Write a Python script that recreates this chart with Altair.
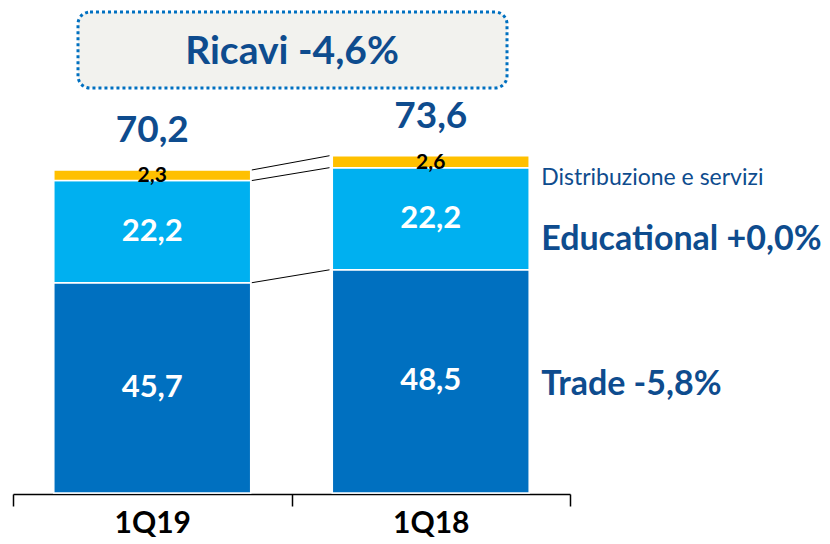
import altair as alt
import pandas as pd

quarters = ["1Q19", "1Q18"]
segments = ["Trade", "Educational", "Distribuzione e servizi"]
trade = [45.7, 48.5]
educational = [22.2, 22.2]
distribuzione = [2.3, 2.6]
totals = [70.2, 73.6]
title_text = ["Ricavi -4,6%"]
right_labels = ["Trade -5,8%", "Educational +0,0%", "Distribuzione e servizi"]

seg_colors = ["#0070C0", "#00B0F0", "#FFC000"]
dark = "#0E4C8E"
FONT = "Lato"

def fmt(v):
    return f"{v:.1f}".replace(".", ",")

rows = []
for i, q in enumerate(quarters):
    start = 0.0
    for s, vals in zip(segments, [trade, educational, distribuzione]):
        v = vals[i]
        rows.append({"quarter": q, "segment": s, "start": start, "end": start + v,
                     "mid": start + v / 2, "label": fmt(v)})
        start += v
df = pd.DataFrame(rows)

tot_df = pd.DataFrame({
    "quarter": quarters,
    "top": [t + e + d for t, e, d in zip(trade, educational, distribuzione)],
    "label": [fmt(v) for v in totals],
})

# connectors between stacked levels
conn = []
for lvl in range(3):
    a = df[(df.quarter == quarters[0])].iloc[lvl]["end"]
    b = df[(df.quarter == quarters[1])].iloc[lvl]["end"]
    conn.append({"from_q": quarters[0], "to_q": quarters[1], "y1": a, "y2": b})
conn_df = pd.DataFrame(conn)

q_last = quarters[1]
last = df[df.quarter == q_last].set_index("segment")
rl_df = pd.DataFrame({
    "quarter": [q_last] * 3,
    "label": right_labels,
    "y": [last.loc["Trade", "mid"], last.loc["Educational", "mid"], last.loc["Educational", "end"]],
})

yscale = alt.Scale(domain=[0, 105.4], nice=False, zero=True)
xscale = alt.Scale(domain=quarters, paddingInner=0, paddingOuter=0)
BAND = 0.707

xaxis = alt.Axis(title=None, labelAngle=0, domainColor="black", domainWidth=1.5,
                 tickColor="black", tickWidth=1.5, tickSize=12, tickBand="extent",
                 labelFont=FONT, labelFontSize=30, labelFontWeight="bold",
                 labelColor="black", labelPadding=2, offset=1, grid=False)

base = alt.Chart(df)

bars = base.mark_bar(width=alt.RelativeBandSize(BAND), stroke="white", strokeWidth=1.5).encode(
    x=alt.X("quarter:N", scale=xscale, sort=quarters, axis=xaxis),
    y=alt.Y("start:Q", scale=yscale, axis=None),
    y2="end:Q",
    color=alt.Color("segment:N", scale=alt.Scale(domain=segments, range=seg_colors), legend=None),
)

seg_text = base.transform_filter(alt.datum.segment != "Distribuzione e servizi").mark_text(
    font=FONT, fontSize=31, fontWeight="bold", color="white", baseline="middle"
).encode(x=alt.X("quarter:N", sort=quarters), y=alt.Y("mid:Q"), text="label:N")

small_text = base.transform_filter(alt.datum.segment == "Distribuzione e servizi").mark_text(
    font=FONT, fontSize=21, fontWeight="bold", color="black", baseline="middle", dy=1
).encode(x=alt.X("quarter:N", sort=quarters), y=alt.Y("mid:Q"), text="label:N")

tot_text = alt.Chart(tot_df).mark_text(
    font=FONT, fontSize=37, fontWeight="bold", color=dark, baseline="alphabetic", dy=-28
).encode(x=alt.X("quarter:N", sort=quarters), y=alt.Y("top:Q"), text="label:N")

edge_r = 0.5 + BAND / 2 + 0.004
edge_l = 0.5 - BAND / 2 - 0.01
connectors = alt.Chart(conn_df).mark_rule(color="black", strokeWidth=1).encode(
    x=alt.X("from_q:N", sort=quarters, bandPosition=edge_r),
    x2=alt.X2("to_q:N", bandPosition=edge_l),
    y="y1:Q",
    y2="y2:Q",
)

rl_x = alt.X("quarter:N", sort=quarters, bandPosition=0.5 + BAND / 2)
rl_trade = alt.Chart(rl_df).transform_filter(alt.datum.label == right_labels[0]).mark_text(
    font=FONT, fontSize=34, fontWeight="bold", color=dark, align="left", baseline="middle", dx=12, dy=4
).encode(x=rl_x, y="y:Q", text="label:N")
rl_edu = alt.Chart(rl_df).transform_filter(alt.datum.label == right_labels[1]).mark_text(
    font=FONT, fontSize=34, fontWeight="bold", color=dark, align="left", baseline="middle", dx=12, dy=21
).encode(x=rl_x, y="y:Q", text="label:N")
rl_dist = alt.Chart(rl_df).transform_filter(alt.datum.label == right_labels[2]).mark_text(
    font=FONT, fontSize=23, color=dark, align="left", baseline="middle", dx=12, dy=10
).encode(x=rl_x, y="y:Q", text="label:N")

box_df = pd.DataFrame({"t": title_text})
box = alt.Chart(box_df).mark_rect(
    cornerRadius=12, fill="#F2F2EE", stroke="#0070C0", strokeWidth=3, strokeDash=[3, 3]
).encode(x=alt.value(65), x2=alt.value(494), y=alt.value(4), y2=alt.value(80))
box_text = alt.Chart(box_df).mark_text(
    font=FONT, fontSize=39, fontWeight="bold", color=dark, baseline="alphabetic"
).encode(x=alt.value(279), y=alt.value(56), text="t:N")

chart = alt.layer(
    bars, connectors, seg_text, small_text, tot_text, rl_trade, rl_edu, rl_dist, box, box_text
).properties(
    width=557, height=485,
    autosize=alt.AutoSizeParams(type="none"),
    padding={"left": 5, "top": 0, "right": 252, "bottom": 50},
).configure_view(stroke=None)

chart.save("out.html", embed_options={"renderer": "svg", "actions": False})
